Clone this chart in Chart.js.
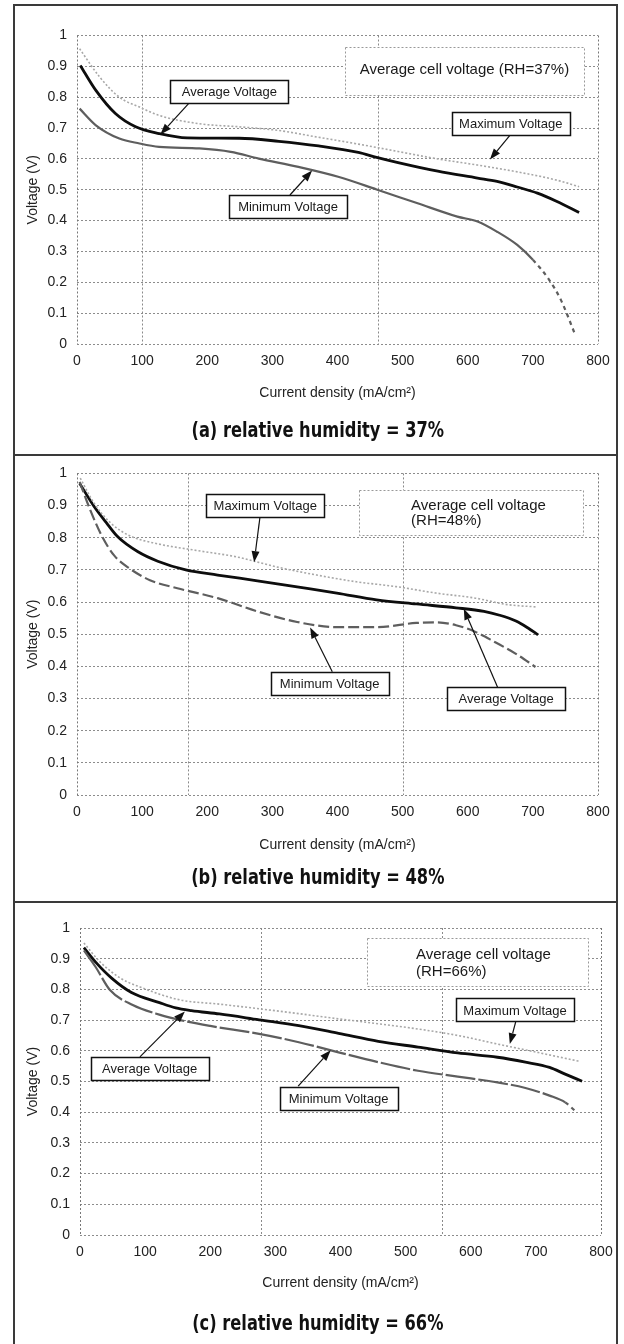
<!DOCTYPE html>
<html><head><meta charset="utf-8">
<script src="https://cdn.jsdelivr.net/npm/chart.js@4.4.0/dist/chart.umd.min.js"></script>
<style>
html,body{margin:0;padding:0;background:#fff;}
body{width:624px;height:1344px;position:relative;overflow:hidden;}
canvas{position:absolute;left:0;}
.fr{position:absolute;background:#3a3a3a;}
.pt{position:absolute;left:14px;width:603px;text-align:center;font-family:"DejaVu Sans Condensed","DejaVu Sans",sans-serif;font-stretch:condensed;font-weight:bold;font-size:21px;line-height:24px;color:#111;transform:scaleX(0.86);transform-origin:318px 0;}
</style></head><body>
<canvas id="cA" width="624" height="455" style="top:0px"></canvas>
<canvas id="cB" width="624" height="447" style="top:455px"></canvas>
<canvas id="cC" width="624" height="442" style="top:902px"></canvas>
<div class="fr" style="left:13px;top:4px;width:2px;height:1340px"></div>
<div class="fr" style="left:616px;top:4px;width:2px;height:1340px"></div>
<div class="fr" style="left:13px;top:4px;width:605px;height:2px"></div>
<div class="fr" style="left:13px;top:454px;width:605px;height:2px"></div>
<div class="fr" style="left:13px;top:901px;width:605px;height:2px"></div>
<div class="pt" style="top:418px">(a) relative humidity = 37%</div>
<div class="pt" style="top:865px">(b) relative humidity = 48%</div>
<div class="pt" style="top:1311px">(c) relative humidity = 66%</div>
<script>
// ---------- data (current density mA/cm2, voltage V) ----------
const xTicks = [0,100,200,300,400,500,600,700,800];
const yTicks = [0,0.1,0.2,0.3,0.4,0.5,0.6,0.7,0.8,0.9,1];

// (a) RH = 37%
const curA_avg = [5,29,59,90,126,169,249,310,371,432,460,493,554,615,645,676,707,737,771];
const volA_avg = [0.903,0.822,0.747,0.704,0.682,0.668,0.667,0.657,0.642,0.621,0.605,0.588,0.560,0.538,0.527,0.509,0.489,0.462,0.426];
const curA_max = [4,35,65,96,126,188,249,310,371,432,493,554,615,676,737,771];
const volA_max = [0.957,0.865,0.800,0.768,0.741,0.714,0.704,0.692,0.670,0.648,0.624,0.600,0.580,0.558,0.531,0.510];
const curA_min = [4,29,65,96,126,188,236,279,340,401,460,523,584,615,645,676,700,725,743,765];
const volA_min = [0.763,0.709,0.666,0.650,0.639,0.634,0.623,0.601,0.574,0.542,0.501,0.456,0.413,0.397,0.364,0.321,0.273,0.208,0.143,0.030];

// (b) RH = 48%
const curB_avg = [4,26,45,63,93,124,167,216,277,338,399,460,521,582,625,649,674,692,708];
const volB_avg = [0.969,0.898,0.847,0.802,0.757,0.727,0.700,0.684,0.666,0.647,0.628,0.607,0.594,0.582,0.571,0.559,0.541,0.520,0.498];
const curB_max = [5,26,51,81,124,185,246,307,368,429,490,551,612,661,704];
const volB_max = [0.985,0.908,0.847,0.806,0.781,0.760,0.740,0.709,0.684,0.663,0.648,0.628,0.612,0.592,0.585];
const curB_min = [4,20,38,57,81,112,154,216,277,338,399,460,521,551,582,612,643,674,704];
const volB_min = [0.974,0.888,0.806,0.745,0.704,0.668,0.643,0.612,0.571,0.538,0.522,0.522,0.535,0.537,0.528,0.507,0.474,0.439,0.398];

// (c) RH = 66%
const curC_avg = [6,24,49,79,122,147,171,214,275,336,397,458,519,580,641,684,721,745,771];
const volC_avg = [0.936,0.889,0.836,0.790,0.757,0.740,0.731,0.720,0.701,0.682,0.657,0.631,0.612,0.593,0.579,0.563,0.546,0.524,0.501];
const curC_max = [6,31,61,92,153,214,275,336,397,458,519,580,641,702,766];
const volC_max = [0.951,0.889,0.838,0.808,0.766,0.752,0.737,0.721,0.704,0.688,0.671,0.650,0.622,0.595,0.566];
const curC_min = [6,24,46,81,123,154,200,275,336,397,458,519,580,641,684,721,745,763];
const volC_min = [0.927,0.873,0.798,0.749,0.717,0.700,0.681,0.655,0.628,0.595,0.563,0.535,0.516,0.497,0.479,0.454,0.432,0.399];

// vertical grid lines (x values) of each panel
const vGridA = [100,462];
const vGridB = [170,500];
const vGridC = [278,556];

// ---------- annotations (in data units) ----------
const notesA = [
  {text:'Average Voltage', cx:234, cy:0.818, sx:172, sy:0.781, tx:128, ty:0.679},
  {text:'Maximum Voltage', cx:666, cy:0.715, sx:665, sy:0.677, tx:634, ty:0.598},
  {text:'Minimum Voltage', cx:324, cy:0.447, sx:327, sy:0.483, tx:361, ty:0.562}
];
const boxA = {x1:411, x2:778, y1:0.963, y2:0.807, align:'center', tx:595, lines:['Average cell voltage (RH=37%)'], ly:[0.888]};
const notesB = [
  {text:'Maximum Voltage', cx:289, cy:0.899, sx:281, sy:0.865, tx:272, ty:0.724},
  {text:'Minimum Voltage', cx:388, cy:0.347, sx:392, sy:0.383, tx:358, ty:0.521},
  {text:'Average Voltage', cx:659, cy:0.299, sx:646, sy:0.334, tx:594, ty:0.579}
];
const boxB = {x1:433, x2:777, y1:0.948, y2:0.807, align:'left', tx:513, lines:['Average cell voltage','(RH=48%)'], ly:[0.900,0.852]};
const notesC = [
  {text:'Maximum Voltage', cx:668, cy:0.733, sx:669, sy:0.694, tx:660, ty:0.622},
  {text:'Average Voltage', cx:107, cy:0.541, sx:92, sy:0.580, tx:161, ty:0.728},
  {text:'Minimum Voltage', cx:397, cy:0.445, sx:335, sy:0.485, tx:385, ty:0.602}
];
const boxC = {x1:441, x2:780, y1:0.967, y2:0.811, align:'left', tx:516, lines:['Average cell voltage','(RH=66%)'], ly:[0.913,0.858]};

Chart.defaults.font.family = "'Liberation Sans', Arial, sans-serif";
Chart.defaults.color = '#222';

function pts(xs, ys){ return xs.map((x,i)=>({x:x, y:ys[i]})); }

const decor = {
  id:'decor',
  beforeDatasetsDraw(chart){
    const {ctx, chartArea:a, scales:{x,y}} = chart;
    const o = chart.options.plugins.decor;
    ctx.save();
    ctx.strokeStyle = '#8a8a8a'; ctx.lineWidth = 1; ctx.setLineDash([2,2]);
    o.vgrid.forEach(v=>{
      const px = Math.round(x.getPixelForValue(v))+0.5;
      ctx.beginPath(); ctx.moveTo(px, a.top); ctx.lineTo(px, a.bottom); ctx.stroke();
    });
    ctx.strokeStyle = '#777';
    [a.left, a.right].forEach(px=>{
      px = Math.round(px)+0.5;
      ctx.beginPath(); ctx.moveTo(px, a.top); ctx.lineTo(px, a.bottom); ctx.stroke();
    });
    ctx.restore();
  },
  afterDatasetsDraw(chart){
    const {ctx, scales:{x,y}} = chart;
    const o = chart.options.plugins.decor;
    ctx.save();
    const b = o.box;
    const bx1 = x.getPixelForValue(b.x1), bx2 = x.getPixelForValue(b.x2);
    const by1 = y.getPixelForValue(b.y1), by2 = y.getPixelForValue(b.y2);
    ctx.fillStyle = '#fff';
    ctx.fillRect(bx1, by1, bx2-bx1, by2-by1);
    ctx.strokeStyle = '#999'; ctx.lineWidth = 1; ctx.setLineDash([2,2]);
    ctx.strokeRect(Math.round(bx1)+0.5, Math.round(by1)+0.5, Math.round(bx2-bx1), Math.round(by2-by1));
    ctx.setLineDash([]);
    ctx.fillStyle = '#1a1a1a';
    ctx.font = "15px 'Liberation Sans', Arial, sans-serif";
    ctx.textBaseline = 'middle';
    ctx.textAlign = b.align;
    b.lines.forEach((t,i)=>{
      ctx.fillText(t, x.getPixelForValue(b.tx), y.getPixelForValue(b.ly[i]));
    });
    ctx.font = "13px 'Liberation Sans', Arial, sans-serif";
    o.notes.forEach(n=>{
      const sx = x.getPixelForValue(n.sx), sy = y.getPixelForValue(n.sy);
      const tx = x.getPixelForValue(n.tx), ty = y.getPixelForValue(n.ty);
      ctx.strokeStyle = '#111'; ctx.fillStyle = '#111'; ctx.lineWidth = 1.2;
      const ang = Math.atan2(ty-sy, tx-sx);
      const hl = 11, hw = 4;
      const bxp = tx - hl*Math.cos(ang), byp = ty - hl*Math.sin(ang);
      ctx.beginPath(); ctx.moveTo(sx, sy); ctx.lineTo(bxp, byp); ctx.stroke();
      ctx.beginPath();
      ctx.moveTo(tx, ty);
      ctx.lineTo(bxp + hw*Math.sin(ang), byp - hw*Math.cos(ang));
      ctx.lineTo(bxp - hw*Math.sin(ang), byp + hw*Math.cos(ang));
      ctx.closePath(); ctx.fill();
      const cx = x.getPixelForValue(n.cx), cy = y.getPixelForValue(n.cy);
      const w = 118, h = 23;
      const l = Math.round(cx - w/2), t = Math.round(cy - h/2);
      ctx.fillStyle = '#fff'; ctx.fillRect(l, t, w, h);
      ctx.lineWidth = 1.5; ctx.strokeStyle = '#111';
      ctx.strokeRect(l+0.5, t+0.5, w, h);
      ctx.fillStyle = '#1a1a1a'; ctx.textAlign = 'center'; ctx.textBaseline = 'middle';
      ctx.fillText(n.text, cx, cy+1);
    });
    ctx.restore();
  }
};

function makeChart(id, cfg){
  const cvs = document.getElementById(id);
  return new Chart(cvs, {
    type:'line',
    data:{ datasets:[
      {label:'Maximum Voltage', data:pts(cfg.maxX,cfg.maxY), borderColor:'#a8a8a8', borderWidth:1.6, borderDash:[2,2], pointRadius:0, cubicInterpolationMode:'monotone', fill:false},
      {label:'Minimum Voltage', data:pts(cfg.minX,cfg.minY), borderColor:'#5e5e5e', borderWidth:2.2, borderDash:cfg.minDash, pointRadius:0, cubicInterpolationMode:'monotone', fill:false,
        segment:{borderDash: c => (c.p0.parsed.x >= cfg.minDashFrom ? [4,4] : undefined)}},
      {label:'Average Voltage', data:pts(cfg.avgX,cfg.avgY), borderColor:'#0d0d0d', borderWidth:2.8, pointRadius:0, cubicInterpolationMode:'monotone', fill:false}
    ]},
    options:{
      responsive:false, animation:false, devicePixelRatio:1,
      layout:{padding:{top:cfg.top, right:cfg.right, left:0, bottom:0}},
      plugins:{legend:{display:false}, tooltip:{enabled:false},
        decor:{vgrid:cfg.vgrid, notes:cfg.notes, box:cfg.box}},
      scales:{
        x:{type:'linear', min:0, max:800,
          afterBuildTicks: s => { s.ticks = xTicks.map(v=>({value:v})); },
          ticks:{padding:cfg.xPad, color:'#222', font:{size:14}, maxRotation:0},
          grid:{display:false, drawTicks:false}, border:{display:false},
          title:{display:true, text:'Current density (mA/cm²)', color:'#222', font:{size:14}, padding:{top:0, bottom:cfg.xTitlePad}},
          afterFit: s => { s.height = cfg.xH; }},
        y:{type:'linear', min:0, max:1,
          afterBuildTicks: s => { s.ticks = yTicks.map(v=>({value:v})); },
          ticks:{padding:10, color:'#222', font:{size:14}, callback: v => String(Math.round(v*10)/10)},
          grid:{color:'#8c8c8c', lineWidth:1, drawTicks:false},
          border:{display:false, dash:[2,2]},
          title:{display:true, text:'Voltage (V)', color:'#222', font:{size:14}, padding:{top:25, bottom:0}},
          afterFit: s => { s.width = cfg.left; }}
      }
    },
    plugins:[decor]
  });
}

makeChart('cA', {avgX:curA_avg, avgY:volA_avg, maxX:curA_max, maxY:volA_max, minX:curA_min, minY:volA_min,
  minDash:[], minDashFrom:700, vgrid:vGridA, notes:notesA, box:boxA,
  top:35.5, right:26, left:77, xH:111, xPad:9, xTitlePad:53});
makeChart('cB', {avgX:curB_avg, avgY:volB_avg, maxX:curB_max, maxY:volB_max, minX:curB_min, minY:volB_min,
  minDash:[11,4], minDashFrom:9999, vgrid:vGridB, notes:notesB, box:boxB,
  top:14, right:26, left:77, xH:107, xPad:9, xTitlePad:48});
makeChart('cC', {avgX:curC_avg, avgY:volC_avg, maxX:curC_max, maxY:volC_max, minX:curC_min, minY:volC_min,
  minDash:[30,3], minDashFrom:745, vgrid:vGridC, notes:notesC, box:boxC,
  top:26, right:23, left:80, xH:109, xPad:9, xTitlePad:52});
</script>
</body></html>
